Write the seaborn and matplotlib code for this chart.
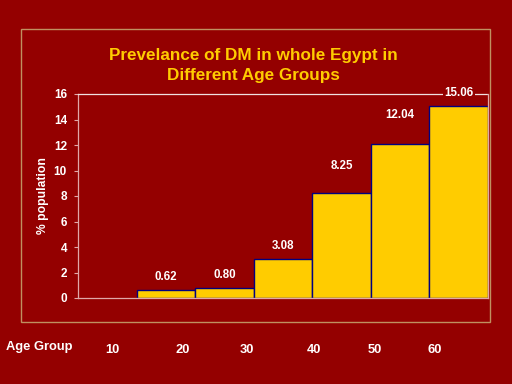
import matplotlib
matplotlib.use("Agg")
import matplotlib.pyplot as plt
import matplotlib.patches as patches
import seaborn as sns

# Daten
altersgruppen = ["20", "30", "40", "50", "60", "70"]
praevalenz = [0.62, 0.80, 3.08, 8.25, 12.04, 15.06]
achsen_beschriftung = ["10", "20", "30", "40", "50", "60"]
y_ticks = [0, 2, 4, 6, 8, 10, 12, 14, 16]

hintergrund = "#940000"
gelb = "#FFCC00"
spine_farbe = "#E0A8A8"

sns.set_style("ticks", rc={"axes.facecolor": hintergrund, "figure.facecolor": hintergrund})
plt.rcParams["font.family"] = ["Liberation Sans", "DejaVu Sans"]
plt.rcParams["font.weight"] = "bold"

fig = plt.figure(figsize=(5.12, 3.84), dpi=100)
fig.patch.set_facecolor(hintergrund)

# Rahmen
fig.patches.append(patches.Rectangle((21 / 512, 1 - 322 / 384), 469 / 512, 293 / 384,
                                     transform=fig.transFigure, fill=False,
                                     edgecolor="#C09060", linewidth=1.0))

ax = fig.add_axes([78 / 512, 1 - 298 / 384, 410 / 512, 204 / 384])
ax.set_facecolor(hintergrund)

sns.barplot(x=altersgruppen, y=praevalenz, color=gelb, saturation=1,
            edgecolor="#000080", linewidth=1.0, width=1.0, ax=ax)

ax.set_xlim(-1.5, 5.5)
ax.set_ylim(0, 16)
ax.set_yticks(y_ticks)
ax.set_yticklabels([str(t) for t in y_ticks], color="white", fontsize=8.5, fontweight="bold")
ax.tick_params(axis="y", colors=spine_farbe, length=3, width=0.8, labelcolor="white", pad=5)

# Altersgruppen-Beschriftung unterhalb
tick_pos = [-0.92, 0.29, 1.38, 2.53, 3.57, 4.59]
ax.set_xticks(tick_pos)
ax.set_xticklabels(achsen_beschriftung, color="white", fontsize=9.3, fontweight="bold")
ax.tick_params(axis="x", length=0, pad=33)

for side in ["left", "bottom", "top", "right"]:
    ax.spines[side].set_visible(True)
    ax.spines[side].set_color(spine_farbe)
    ax.spines[side].set_linewidth(0.9)
ax.spines["top"].set_color("#F0E0E0")
ax.spines["top"].set_linestyle((0, (3, 1)))

ax.set_xlabel("")
ax.set_ylabel("% population", color="white", fontsize=8.7, fontweight="bold", labelpad=3)

abstand = [5, 5, 5, 15, 17, 5]
labels = ax.bar_label(ax.containers[0], fmt="%.2f", padding=5, color="white",
                      fontsize=8.3, fontweight="bold")
for t, p in zip(labels, abstand):
    t.xyann = (0, p)
    t.set_clip_on(False)
    t.set_bbox(dict(facecolor=hintergrund, edgecolor="none", pad=1))

fig.text(6 / 512, 1 - 347 / 384, "Age Group", color="white", fontsize=9.3,
         fontweight="bold", va="center", ha="left")

fig.text(253 / 512, 1 - 65.5 / 384, "Prevelance of DM in whole Egypt in\nDifferent Age Groups",
         color=gelb, fontsize=12.3, fontweight="bold", ha="center", va="center",
         linespacing=1.45)

fig.savefig("out.png", dpi=100, facecolor=hintergrund)
